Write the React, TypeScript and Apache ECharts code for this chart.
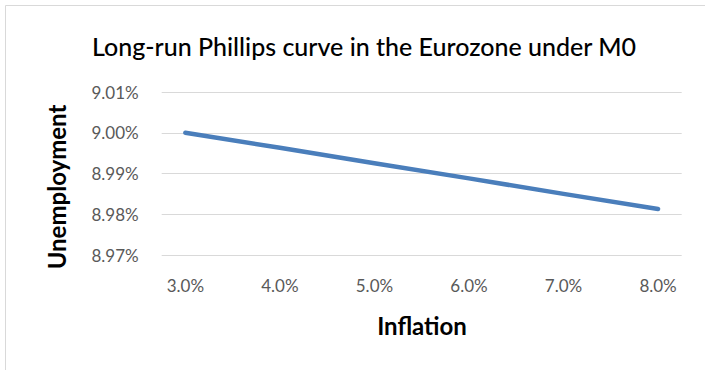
import React, { useEffect, useRef } from "react";
import * as echarts from "echarts";

const inflation = [3.0, 4.0, 5.0, 6.0, 7.0, 8.0];
const unemployment = [9.0, 8.9963, 8.9925, 8.9888, 8.985, 8.9813];
const xTicks = [3, 4, 5, 6, 7, 8];

const titleText = "Long-run Phillips curve in the Eurozone under M0";
const xName = "Inflation";
const yName = "Unemployment";

export default function App() {
  const ref = useRef<HTMLDivElement>(null);
  useEffect(() => {
    document.body.style.margin = "0";
    const chart = echarts.init(ref.current!, undefined, { renderer: "svg" });
    chart.setOption({
      animation: false,
      backgroundColor: "#ffffff",
      title: {
        text: titleText,
        left: 359,
        top: 28,
        textAlign: "center",
        textStyle: { fontFamily: "Lato", fontSize: 25, fontWeight: 500, color: "#000000" },
      },
      grid: { left: 161.7, right: 23.3, top: 92, bottom: 115 },
      xAxis: {
        type: "value",
        min: 2.75,
        max: 8.25,
        axisLine: { show: false },
        axisTick: { show: false },
        splitLine: { show: false },
        axisLabel: {
          customValues: xTicks,
          formatter: (v: number) => v.toFixed(1) + "%",
          color: "#595959",
          fontFamily: "Lato",
          fontSize: 17,
          margin: 22,
        },
      },
      yAxis: {
        type: "value",
        min: 8.97,
        max: 9.01,
        interval: 0.01,
        axisLine: { show: false },
        axisTick: { show: false },
        splitLine: { show: true, lineStyle: { color: "#d9d9d9", width: 1 } },
        axisLabel: {
          formatter: (v: number) => v.toFixed(2) + "%",
          color: "#595959",
          fontFamily: "Lato",
          fontSize: 17,
          margin: 23,
        },
      },
      series: [
        {
          type: "line",
          data: inflation.map((x, i) => [x, unemployment[i]]),
          showSymbol: false,
          symbol: "none",
          lineStyle: { color: "#4a7ebb", width: 4.5, cap: "round", join: "round" },
        },
      ],
      graphic: [
        {
          type: "rect",
          shape: { x: 5.5, y: 5.5, width: 760, height: 420 },
          style: { fill: "none", stroke: "#d9d9d9", lineWidth: 1 },
          silent: true,
        },
        {
          type: "text",
          x: 56,
          y: 187,
          rotation: Math.PI / 2,
          style: {
            text: yName,
            fontFamily: "Lato",
            fontSize: 24,
            fontWeight: "bold",
            fill: "#000000",
            textAlign: "center",
            textVerticalAlign: "middle",
          },
        },
        {
          type: "text",
          x: 422,
          y: 325,
          style: {
            text: xName,
            fontFamily: "Lato",
            fontSize: 24,
            fontWeight: "bold",
            fill: "#000000",
            textAlign: "center",
            textVerticalAlign: "middle",
          },
        },
      ],
    });
    return () => chart.dispose();
  }, []);
  return <div ref={ref} style={{ width: 705, height: 370 }} />;
}
